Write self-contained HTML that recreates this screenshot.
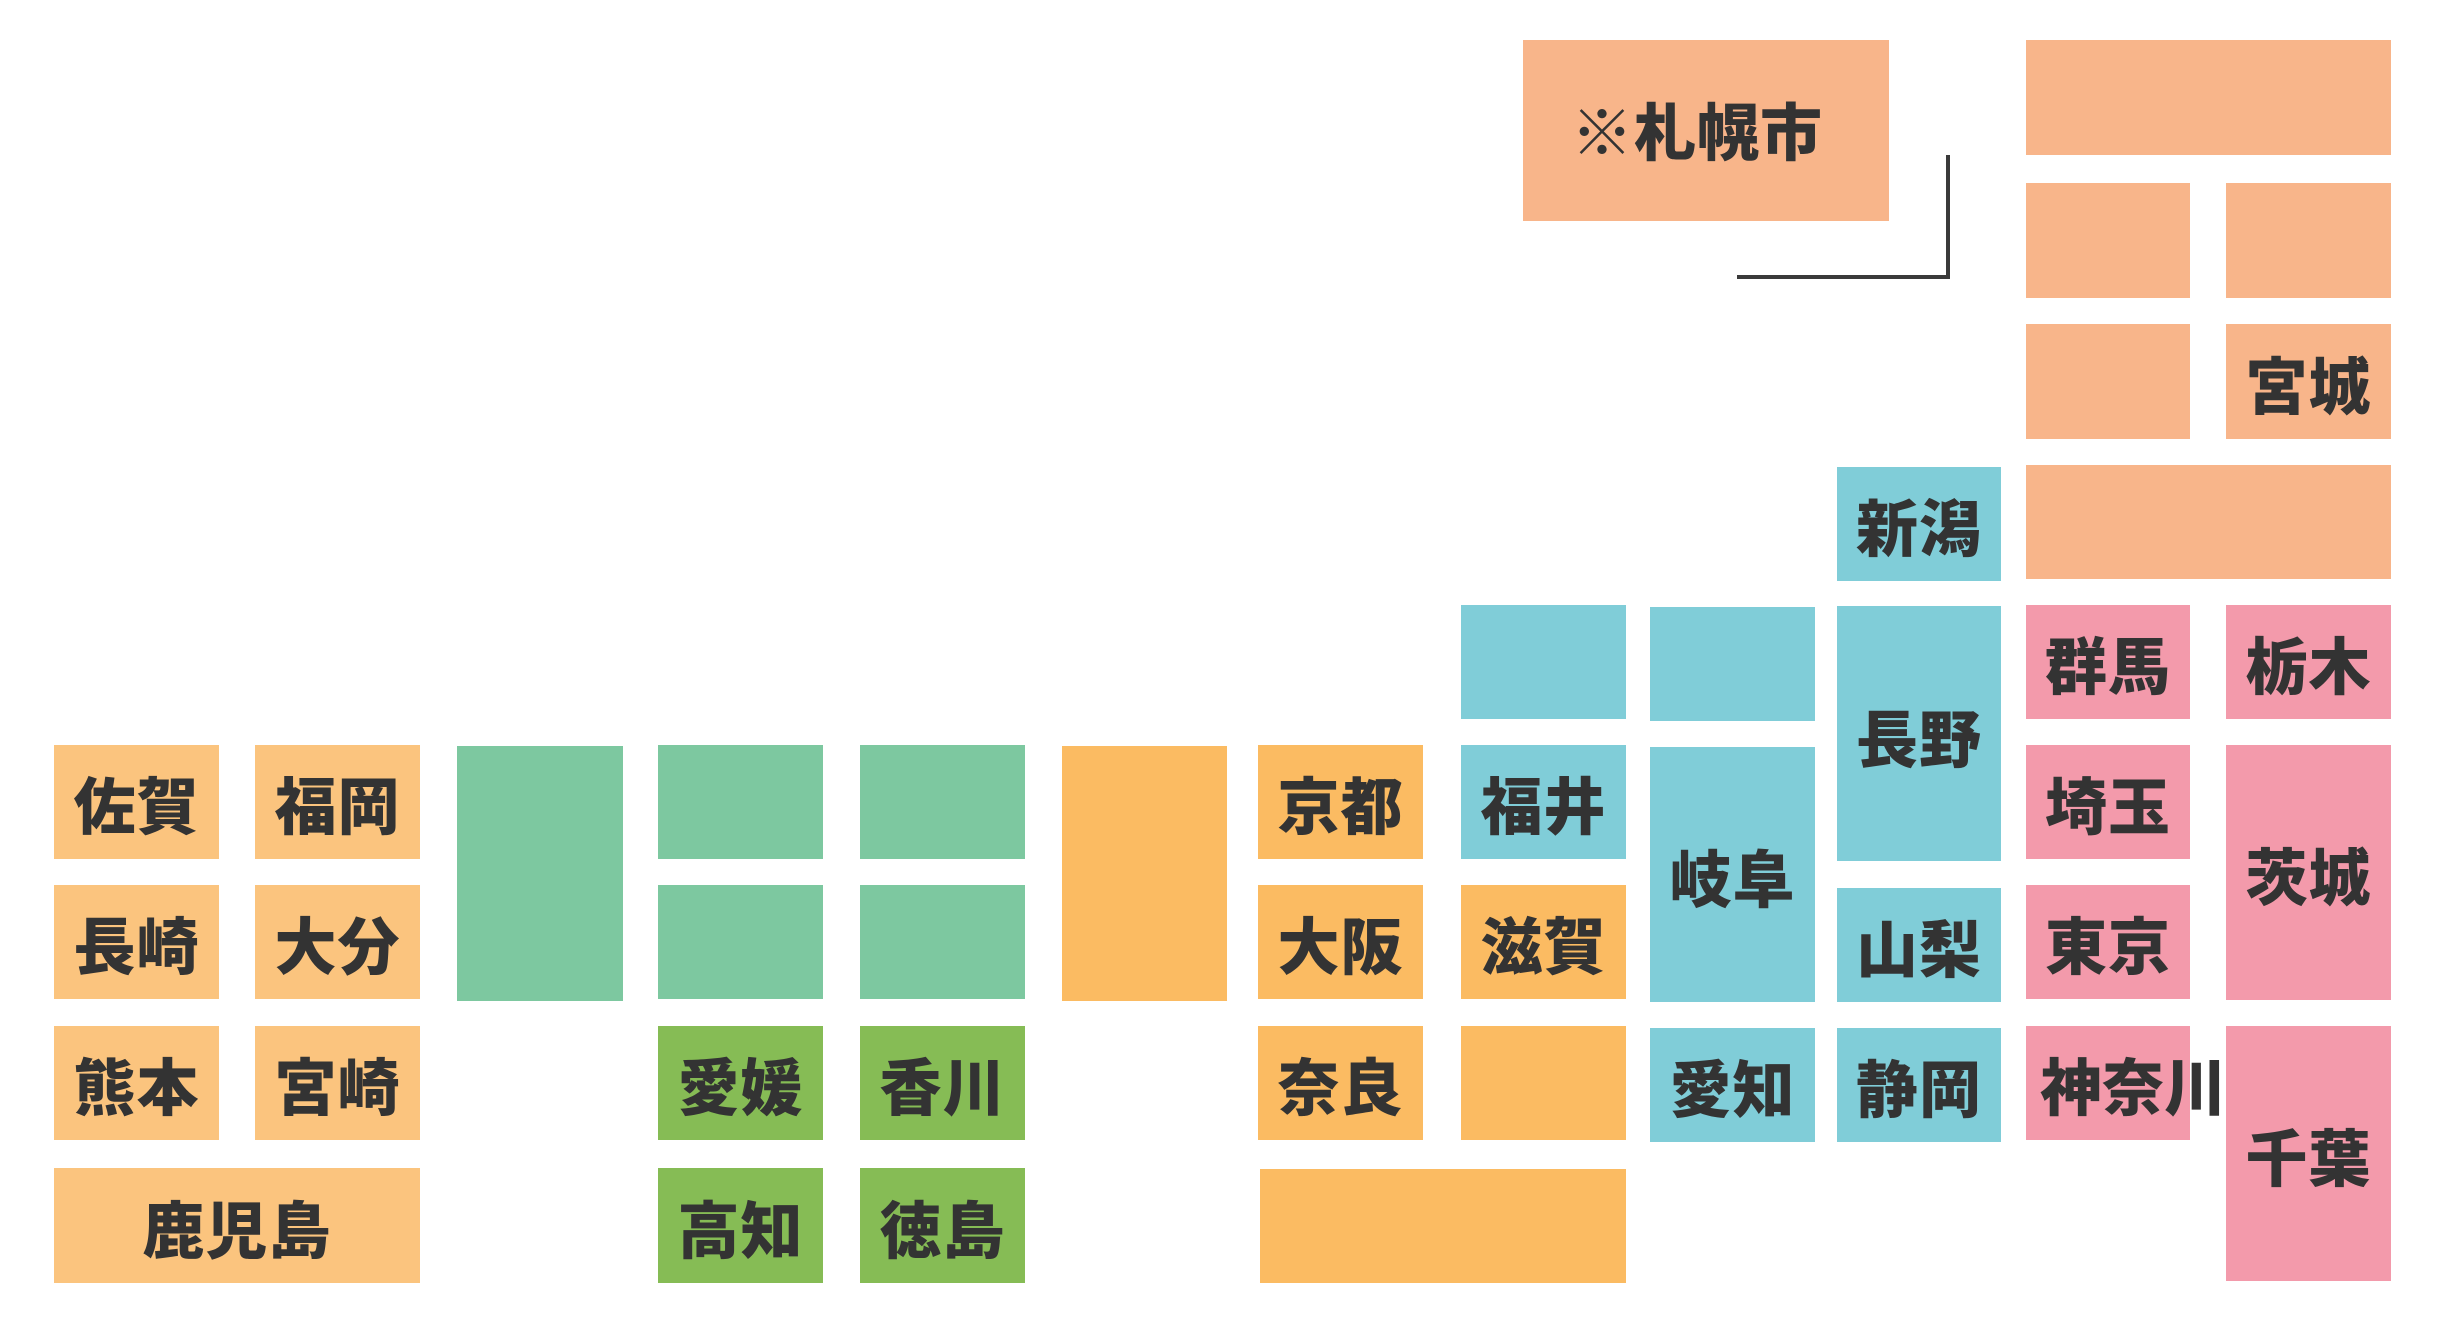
<!DOCTYPE html>
<html><head><meta charset="utf-8"><style>
html,body{margin:0;padding:0;background:#fff;}
body{width:2444px;height:1324px;position:relative;overflow:hidden;font-family:"Liberation Sans","Noto Sans CJK JP",sans-serif;}
.b{position:absolute;display:flex;align-items:center;justify-content:center;font-weight:900;font-size:62px;color:#333;letter-spacing:1px;white-space:nowrap;}
.k{background:#FBC47E}.n{background:#F8B58A}.o{background:#FBBB62}.t{background:#7DC8A0}.g{background:#86BC55}.u{background:#80CDD8}.p{background:#F39AAB}
</style></head><body>
<div class="b k" style="left:54px;top:745px;width:165px;height:114px">佐賀</div>
<div class="b k" style="left:255px;top:745px;width:165px;height:114px">福岡</div>
<div class="b k" style="left:54px;top:885px;width:165px;height:114px">長崎</div>
<div class="b k" style="left:255px;top:885px;width:165px;height:114px">大分</div>
<div class="b k" style="left:54px;top:1026px;width:165px;height:114px">熊本</div>
<div class="b k" style="left:255px;top:1026px;width:165px;height:114px">宮崎</div>
<div class="b k" style="left:54px;top:1168px;width:366px;height:115px">鹿児島</div>
<div class="b t" style="left:457px;top:746px;width:166px;height:255px"></div>
<div class="b t" style="left:658px;top:745px;width:165px;height:114px"></div>
<div class="b t" style="left:860px;top:745px;width:165px;height:114px"></div>
<div class="b t" style="left:658px;top:885px;width:165px;height:114px"></div>
<div class="b t" style="left:860px;top:885px;width:165px;height:114px"></div>
<div class="b g" style="left:658px;top:1026px;width:165px;height:114px">愛媛</div>
<div class="b g" style="left:860px;top:1026px;width:165px;height:114px">香川</div>
<div class="b g" style="left:658px;top:1168px;width:165px;height:115px">高知</div>
<div class="b g" style="left:860px;top:1168px;width:165px;height:115px">徳島</div>
<div class="b o" style="left:1062px;top:746px;width:165px;height:255px"></div>
<div class="b o" style="left:1258px;top:745px;width:165px;height:114px">京都</div>
<div class="b o" style="left:1258px;top:885px;width:165px;height:114px">大阪</div>
<div class="b o" style="left:1258px;top:1026px;width:165px;height:114px">奈良</div>
<div class="b u" style="left:1461px;top:605px;width:165px;height:114px"></div>
<div class="b u" style="left:1461px;top:745px;width:165px;height:114px">福井</div>
<div class="b o" style="left:1461px;top:885px;width:165px;height:114px">滋賀</div>
<div class="b o" style="left:1461px;top:1026px;width:165px;height:114px"></div>
<div class="b o" style="left:1260px;top:1169px;width:366px;height:114px"></div>
<div class="b u" style="left:1650px;top:607px;width:165px;height:114px"></div>
<div class="b u" style="left:1650px;top:747px;width:165px;height:255px">岐阜</div>
<div class="b u" style="left:1650px;top:1028px;width:165px;height:114px">愛知</div>
<div class="b u" style="left:1837px;top:467px;width:164px;height:114px">新潟</div>
<div class="b u" style="left:1837px;top:606px;width:164px;height:255px;align-items:flex-start"><span style="margin-top:84px">長野</span></div>
<div class="b u" style="left:1837px;top:888px;width:164px;height:114px">山梨</div>
<div class="b u" style="left:1837px;top:1028px;width:164px;height:114px">静岡</div>
<div class="b p" style="left:2026px;top:605px;width:164px;height:114px">群馬</div>
<div class="b p" style="left:2226px;top:605px;width:165px;height:114px">栃木</div>
<div class="b p" style="left:2026px;top:745px;width:164px;height:114px">埼玉</div>
<div class="b p" style="left:2026px;top:885px;width:164px;height:114px">東京</div>
<div class="b p" style="left:2026px;top:1026px;width:164px;height:114px;justify-content:flex-start;overflow:visible"><span style="margin-left:14px;letter-spacing:0">神奈川</span></div>
<div class="b p" style="left:2226px;top:745px;width:165px;height:255px">茨城</div>
<div class="b p" style="left:2226px;top:1026px;width:165px;height:255px">千葉</div>
<div class="b n" style="left:2026px;top:40px;width:365px;height:115px"></div>
<div class="b n" style="left:2026px;top:183px;width:164px;height:115px"></div>
<div class="b n" style="left:2226px;top:183px;width:165px;height:115px"></div>
<div class="b n" style="left:2026px;top:324px;width:164px;height:115px"></div>
<div class="b n" style="left:2226px;top:324px;width:165px;height:115px">宮城</div>
<div class="b n" style="left:2026px;top:465px;width:365px;height:114px"></div>
<div class="b n" style="left:1523px;top:40px;width:366px;height:181px;padding-right:18px;padding-bottom:6px;box-sizing:border-box">※札幌市</div>
<div style="position:absolute;left:1946px;top:155px;width:4px;height:124px;background:#3a3a3a"></div>
<div style="position:absolute;left:1737px;top:275px;width:213px;height:4px;background:#3a3a3a"></div>
</body></html>
